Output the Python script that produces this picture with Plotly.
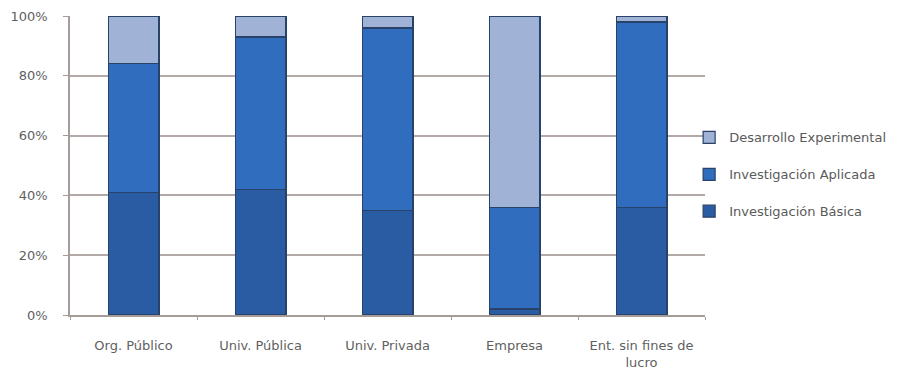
import plotly.graph_objects as go

# Share of R&D spending by type of research, per performing sector (%)
categories = ["Org. Público", "Univ. Pública", "Univ. Privada", "Empresa", "Ent. sin fines de<br>lucro"]
basica = [41, 42, 35, 2, 36]
aplicada = [43, 51, 61, 34, 62]
desarrollo = [16, 7, 4, 64, 2]

# (name, values, colour, legend position)
series = [
    ("Investigación Básica", basica, "#2a5ca3", 3),
    ("Investigación Aplicada", aplicada, "#306dbf", 2),
    ("Desarrollo Experimental", desarrollo, "#a0b3d6", 1),
]

fig = go.Figure()
for i, (name, vals, color, rank) in enumerate(series):
    fig.add_trace(go.Bar(
        x=categories, y=vals, name=name,
        legendgroup=f"g{i}", legendrank=rank,
        marker=dict(color=color, line=dict(color="#28426a", width=1.2)),
        width=0.4,
    ))

font_family = "'DejaVu Sans', Verdana, sans-serif"
fig.update_layout(
    width=908, height=371,
    barmode="stack",
    paper_bgcolor="white", plot_bgcolor="white",
    margin=dict(l=70, r=203, t=16, b=56),
    font=dict(family=font_family, size=13, color="#5f5f5f"),
    showlegend=True,
    legend=dict(
        traceorder="grouped",
        x=0.975, y=0.47, xanchor="left", yanchor="middle",
        tracegroupgap=17, itemwidth=30,
        font=dict(size=13, color="#5a5a5a"),
        bgcolor="rgba(0,0,0,0)",
    ),
)
fig.update_yaxes(
    range=[0, 100], tickvals=[0, 20, 40, 60, 80, 100],
    ticktext=["0%", "20%", "40%", "60%", "80%", "100%"],
    showgrid=True, gridcolor="#b3a9a6", gridwidth=1.5,
    showline=True, linecolor="#a59c9a", linewidth=1.5,
    ticks="outside", ticklen=5, tickcolor="#a59c9a",
    zeroline=False, ticklabelstandoff=13, automargin=False,
)
fig.update_xaxes(
    showline=True, linecolor="#a59c9a", linewidth=1.5,
    ticks="outside", tickson="boundaries", ticklen=3, tickcolor="#a59c9a",
    ticklabelstandoff=18, automargin=False,
    tickfont=dict(size=13, color="#5f5f5f"),
)

fig.write_html("out.html")
